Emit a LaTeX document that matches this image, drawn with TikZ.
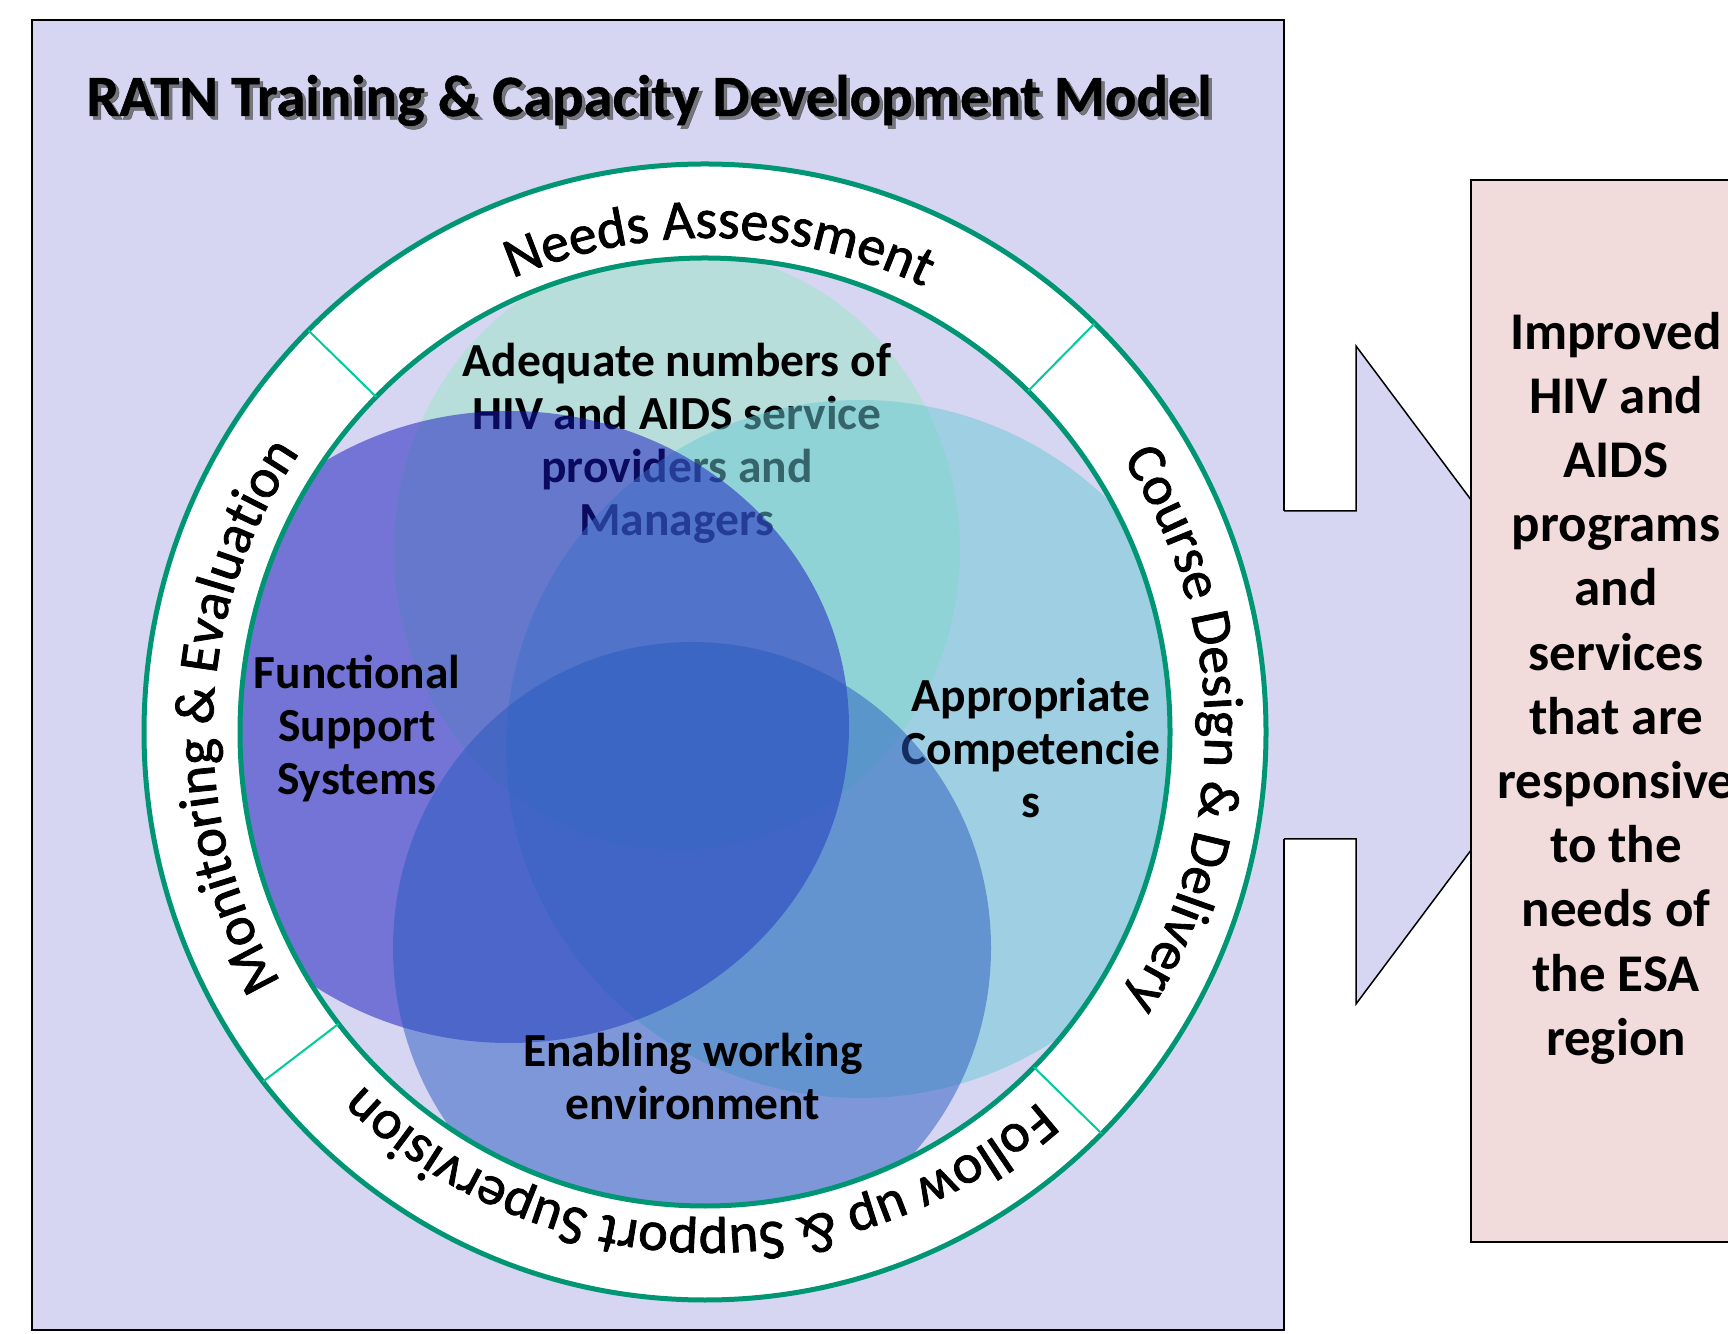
\documentclass[tikz,border=0pt]{standalone}
\usepackage{fontspec}
\setmainfont{Carlito}
\newfontfamily\ringfam[FakeBold=1.5]{Carlito}
\newfontfamily\titlefam[FakeBold=0.8]{Carlito Bold}
\usetikzlibrary{decorations.text}
\definecolor{lav}{RGB}{214,214,243}
\definecolor{ringgreen}{RGB}{0,150,115}
\definecolor{divgreen}{RGB}{0,204,153}
\definecolor{vA}{RGB}{154,230,197}
\definecolor{vB}{RGB}{20,20,189}
\definecolor{vC}{RGB}{106,202,213}
\definecolor{vD}{RGB}{40,90,190}
\definecolor{boxpink}{RGB}{242,220,219}
\newcommand\ringfnt{\ringfam\fontsize{56}{60}\selectfont}
\begin{document}
\begin{tikzpicture}[x=1pt,y=1pt,
  venntext/.style={font=\bfseries\fontsize{47.5}{53}\selectfont, align=center, inner sep=0pt, text=black},
  boxtext/.style={font=\bfseries\fontsize{53}{64.2}\selectfont, align=center, inner sep=0pt, text=black},
  titletext/.style={font=\titlefam\fontsize{58.5}{64}\selectfont, inner sep=0pt, anchor=base},
  vennfill/.style={fill opacity=0.5},
  ringline/.style={draw=ringgreen, line width=5pt},
  divider/.style={draw=divgreen, line width=2pt},
  ringlabel/.style={decorate, decoration={text along path, text align=center, text={|\ringfnt|#1}}}
]
\useasboundingbox (0,0) rectangle (1728,1333);
\begin{scope}
\clip (0,0) rectangle (1728,1333);

% frame
\filldraw[fill=lav, draw=black, line width=2.5pt] (32,3) rectangle (1284,1313);

% title with shadow
\node[titletext, text=black!70, opacity=0.7] (titleshadow) at (652.5,1213.5) {RATN Training \& Capacity Development Model};
\node[titletext, text=black] (title) at (649,1217) {RATN Training \& Capacity Development Model};

% Venn shapes and labels
\fill[vA, vennfill] (677,783) ellipse[x radius=283, y radius=300];
\node[venntext] (tA) at (677,890) {Adequate numbers of\\HIV and AIDS service\\providers and\\Managers};
\fill[vC, vennfill] (860,584) ellipse[x radius=354, y radius=349];
\node[venntext] (tC) at (1031,585) {Appropriate\\Competencie\\s};
\fill[vB, vennfill] (509,606) ellipse[x radius=340, y radius=316];
\node[venntext] (tB) at (357,604) {Functional\\Support\\Systems};
\fill[vD, vennfill] (692,385) ellipse[x radius=299, y radius=306];
\node[venntext] (tD) at (693,256) {Enabling working\\environment};

% ring
\coordinate (c) at (705,601);
\coordinate (ct) at (709,601);
\fill[white, even odd rule] (c) ellipse[x radius=561, y radius=568] (c) ellipse[x radius=465, y radius=474];
\draw[ringline] (c) ellipse[x radius=561, y radius=568];
\draw[ringline] (c) ellipse[x radius=465, y radius=474];
\foreach \a/\n in {135/d1, 46/d2, -45/d3, -142/d4}{
  \coordinate (\n i) at ([shift={(\a:465 and 474)}]c);
  \coordinate (\n o) at ([shift={(\a:561 and 568)}]c);
  \draw[divider] (\n i) -- (\n o);
}

% ring labels (clockwise, tops outward)
\path[ringlabel={Needs Assessment}] ([shift={(148.8:496 and 494)}]ct) arc[start angle=148.8, end angle=28.8, x radius=496, y radius=494];
\path[ringlabel={Course Design {\&} Delivery}] ([shift={(60.3:496 and 494)}]ct) arc[start angle=60.3, end angle=-59.7, x radius=496, y radius=494];
\path[ringlabel={Follow up {\&} Support Supervision}] ([shift={(-21.4:496 and 494)}]ct) arc[start angle=-21.4, end angle=-161.4, x radius=496, y radius=494];
\path[ringlabel={Monitoring {\&} Evaluation}] ([shift={(238:496 and 494)}]ct) arc[start angle=238, end angle=118, x radius=496, y radius=494];

% arrow
\coordinate (a1) at (1284,822);
\coordinate (a2) at (1356,822);
\coordinate (a3) at (1356,987);
\coordinate (tip) at (1602,658);
\coordinate (a5) at (1356,329);
\coordinate (a6) at (1356,494);
\coordinate (a7) at (1284,494);
\fill[lav] (1281,822) -- (a2) -- (a3) -- (tip) -- (a5) -- (a6) -- (1281,494) -- cycle;
\draw[black, line width=1.5pt, line join=miter] (a1) -- (a2) -- (a3) -- (tip) -- (a5) -- (a6) -- (a7);

% result box
\filldraw[fill=boxpink, draw=black, line width=2pt] (1471,91) rectangle (1761,1153);
\node[boxtext] (result) at (1616,645) {Improved\\HIV and\\AIDS\\programs\\and\\services\\that are\\responsive\\to the\\needs of\\the ESA\\region};
\end{scope}
\end{tikzpicture}
\end{document}
